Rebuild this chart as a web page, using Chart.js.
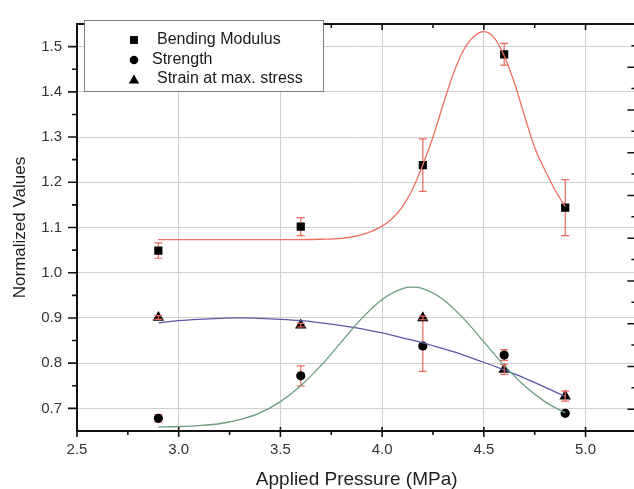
<!DOCTYPE html>
<html><head><meta charset="utf-8">
<script src="https://cdn.jsdelivr.net/npm/chart.js@4.4.1/dist/chart.umd.min.js"></script>
<style>html,body{margin:0;padding:0;overflow:hidden;background:#fff;}#wrap{width:634px;height:489px;position:relative;overflow:hidden;}</style>
</head><body><div id="wrap"><canvas id="c" width="643" height="489"></canvas></div>
<script>
// ---- data ----
const pressure = [2.9, 3.6, 4.2, 4.6, 4.9];
const bendingModulus = [1.049, 1.102, 1.238, 1.483, 1.144];
const bendingErr = [0.017, 0.020, 0.058, 0.024, 0.062];
const strength = [0.678, 0.772, 0.838, 0.818, 0.689];
const strengthErr = [0.008, 0.022, 0.056, 0.012, 0.004];
const strain = [0.901, 0.884, 0.900, 0.786, 0.727];
const strainErr = [0.004, 0.004, 0.004, 0.011, 0.011];

// fitted curves
const fitBendX = [2.9, 3.2, 3.5, 3.7, 3.8, 3.85, 3.9, 3.95, 4.0, 4.05, 4.1, 4.15, 4.2, 4.25, 4.3, 4.35, 4.4, 4.45, 4.5, 4.55, 4.6, 4.65, 4.7, 4.75, 4.8, 4.85, 4.9];
const fitBendY = [1.073, 1.073, 1.073, 1.074, 1.076, 1.079, 1.084, 1.092, 1.103, 1.120, 1.146, 1.185, 1.238, 1.300, 1.372, 1.440, 1.492, 1.522, 1.533, 1.520, 1.480, 1.420, 1.347, 1.277, 1.227, 1.183, 1.146];
const fitStrengthX = [2.9, 3.0, 3.1, 3.2, 3.3, 3.4, 3.5, 3.6, 3.7, 3.8, 3.9, 4.0, 4.1, 4.15, 4.2, 4.3, 4.4, 4.5, 4.6, 4.7, 4.8, 4.9];
const fitStrengthY = [0.659, 0.660, 0.662, 0.666, 0.675, 0.690, 0.715, 0.750, 0.795, 0.847, 0.899, 0.941, 0.965, 0.968, 0.965, 0.941, 0.899, 0.847, 0.795, 0.750, 0.715, 0.690];
const fitStrainX = [2.9, 3.0, 3.1, 3.2, 3.3, 3.4, 3.5, 3.6, 3.7, 3.8, 3.9, 4.0, 4.1, 4.2, 4.3, 4.4, 4.5, 4.6, 4.7, 4.8, 4.9];
const fitStrainY = [0.889, 0.894, 0.897, 0.899, 0.900, 0.899, 0.897, 0.894, 0.889, 0.883, 0.876, 0.867, 0.856, 0.845, 0.832, 0.818, 0.802, 0.785, 0.767, 0.747, 0.726];

// axis ticks
const xTicks = [2.5, 3.0, 3.5, 4.0, 4.5, 5.0];
const xMinorTicks = [2.75, 3.25, 3.75, 4.25, 4.75];
const yTicks = [0.7, 0.8, 0.9, 1.0, 1.1, 1.2, 1.3, 1.4, 1.5];
const yMinorTicks = [0.75, 0.85, 0.95, 1.05, 1.15, 1.25, 1.35, 1.45];
const rightTicks = [0, 1, 2, 3, 4, 5, 6, 7, 8];
const rightMinorTicks = [0.5, 1.5, 2.5, 3.5, 4.5, 5.5, 6.5, 7.5, 8.5];

const seriesNames = ['Bending Modulus', 'Strength', 'Strain at max. stress'];

const FONT = "'Liberation Sans', Arial, sans-serif";
Chart.defaults.font.family = FONT;

const pts = (xs, ys) => xs.map((x, i) => ({x: x, y: ys[i]}));

const ERR_COLOR = '#ee6a5c';
function drawErrors(chart, vals, errs) {
  const ctx = chart.ctx, xs = chart.scales.x, ys = chart.scales.y;
  ctx.save();
  ctx.strokeStyle = ERR_COLOR;
  ctx.lineWidth = 1.2;
  for (let i = 0; i < pressure.length; i++) {
    const px = xs.getPixelForValue(pressure[i]);
    const t = ys.getPixelForValue(vals[i] + errs[i]);
    const b = ys.getPixelForValue(vals[i] - errs[i]);
    ctx.beginPath();
    ctx.moveTo(px, t); ctx.lineTo(px, b);
    ctx.moveTo(px - 4, t); ctx.lineTo(px + 4, t);
    ctx.moveTo(px - 4, b); ctx.lineTo(px + 4, b);
    ctx.stroke();
  }
  ctx.restore();
}

const framePlugin = {
  id: 'frame',
  beforeDraw(chart) {
    const ctx = chart.ctx;
    ctx.save(); ctx.fillStyle = '#fff'; ctx.fillRect(0, 0, chart.width, chart.height); ctx.restore();
  },
  beforeDatasetsDraw(chart) {
    drawErrors(chart, bendingModulus, bendingErr);
    drawErrors(chart, strength, strengthErr);
  },
  afterDatasetsDraw(chart) {
    drawErrors(chart, strain, strainErr);
  },
  afterDraw(chart) {
    const ctx = chart.ctx, a = chart.chartArea;
    const xs = chart.scales.x, ys = chart.scales.y, y2 = chart.scales.y2;
    ctx.save();
    ctx.strokeStyle = '#111';
    ctx.lineWidth = 1.6;
    ctx.beginPath();
    xTicks.forEach(v => { const p = xs.getPixelForValue(v); ctx.moveTo(p, a.bottom - 4); ctx.lineTo(p, a.bottom + 6); });
    xMinorTicks.forEach(v => { const p = xs.getPixelForValue(v); ctx.moveTo(p, a.bottom); ctx.lineTo(p, a.bottom + 4); });
    xTicks.forEach(v => { const p = xs.getPixelForValue(v); ctx.moveTo(p, a.top); ctx.lineTo(p, a.top + 6); });
    xMinorTicks.forEach(v => { const p = xs.getPixelForValue(v); ctx.moveTo(p, a.top); ctx.lineTo(p, a.top + 4); });
    yTicks.forEach(v => { const p = ys.getPixelForValue(v); ctx.moveTo(a.left, p); ctx.lineTo(a.left - 9, p); });
    yMinorTicks.forEach(v => { const p = ys.getPixelForValue(v); ctx.moveTo(a.left, p); ctx.lineTo(a.left - 5, p); });
    rightTicks.forEach(v => { const p = y2.getPixelForValue(v); ctx.moveTo(a.right, p); ctx.lineTo(a.right - 9, p); });
    rightMinorTicks.forEach(v => { const p = y2.getPixelForValue(v); ctx.moveTo(a.right, p); ctx.lineTo(a.right - 5, p); });
    ctx.stroke();
    ctx.lineWidth = 2;
    ctx.strokeRect(a.left, a.top, a.right - a.left, a.bottom - a.top);
    ctx.restore();

    // legend
    ctx.save();
    ctx.fillStyle = '#fff';
    ctx.fillRect(84, 20, 239, 71);
    ctx.strokeStyle = '#7a7a7a';
    ctx.lineWidth = 1;
    ctx.strokeRect(84.5, 20.5, 239, 71);
    ctx.fillStyle = '#000';
    Chart.helpers.drawPoint(ctx, {pointStyle: 'rect', radius: 5.6, rotation: 0, borderWidth: 0}, 134, 40);
    Chart.helpers.drawPoint(ctx, {pointStyle: 'circle', radius: 4.3, rotation: 0, borderWidth: 0}, 134, 60);
    Chart.helpers.drawPoint(ctx, {pointStyle: 'triangle', radius: 6, rotation: 0, borderWidth: 0}, 134, 80.5);
    ctx.fillStyle = '#1a1a1a';
    ctx.font = '16px ' + FONT;
    ctx.textBaseline = 'middle';
    ctx.textAlign = 'left';
    ctx.fillText(seriesNames[0], 157, 39.5);
    ctx.fillText(seriesNames[1], 152, 59.5);
    ctx.fillText(seriesNames[2], 157, 79);
    ctx.restore();
  }
};

new Chart(document.getElementById('c'), {
  type: 'scatter',
  data: {
    datasets: [
      {label: 'Bending fit', data: pts(fitBendX, fitBendY), showLine: true, pointRadius: 0, borderColor: '#ef6e5f', borderWidth: 1.3, cubicInterpolationMode: 'monotone', fill: false},
      {label: 'Strength fit', data: pts(fitStrengthX, fitStrengthY), showLine: true, pointRadius: 0, borderColor: '#6b9c7c', borderWidth: 1.3, cubicInterpolationMode: 'monotone', fill: false},
      {label: 'Strain fit', data: pts(fitStrainX, fitStrainY), showLine: true, pointRadius: 0, borderColor: '#5858a8', borderWidth: 1.3, cubicInterpolationMode: 'monotone', fill: false},
      {label: seriesNames[0], data: pts(pressure, bendingModulus), pointStyle: 'rect', pointRadius: 5.8, pointBorderWidth: 0, pointBackgroundColor: '#000', showLine: false},
      {label: seriesNames[1], data: pts(pressure, strength), pointStyle: 'circle', pointRadius: 4.6, pointBorderWidth: 0, pointBackgroundColor: '#000', showLine: false},
      {label: seriesNames[2], data: pts(pressure, strain), pointStyle: 'triangle', pointRadius: 6.6, pointBorderWidth: 0, pointBackgroundColor: '#000', showLine: false}
    ]
  },
  options: {
    responsive: false,
    animation: false,
    devicePixelRatio: 1,
    layout: {padding: {top: 13, right: 0, left: 0, bottom: 0}},
    plugins: {legend: {display: false}, tooltip: {enabled: false}},
    scales: {
      x: {
        type: 'linear', min: 2.5, max: 5.25,
        afterBuildTicks: s => { s.ticks = xTicks.map(v => ({value: v})); },
        afterFit: s => { s.height = 58; },
        grid: {color: '#cfcfcf', lineWidth: 1, drawTicks: false},
        border: {display: false},
        ticks: {font: {size: 15}, color: '#333', padding: 10, maxRotation: 0, callback: v => Number(v).toFixed(1)},
        title: {display: true, text: 'Applied Pressure (MPa)', color: '#1e1e1e', font: {size: 19, lineHeight: 1}, padding: {top: 0, bottom: 0}}
      },
      y: {
        type: 'linear', min: 0.65, max: 1.55,
        afterBuildTicks: s => { s.ticks = yTicks.map(v => ({value: v})); },
        afterFit: s => { s.width = 77; },
        grid: {color: '#cfcfcf', lineWidth: 1, drawTicks: false},
        border: {display: false},
        ticks: {font: {size: 15}, color: '#333', padding: 15, callback: v => Number(v).toFixed(1)},
        title: {display: true, text: 'Normalized Values', color: '#1e1e1e', font: {size: 17, lineHeight: 1}, padding: {top: 12, bottom: 0}}
      },
      y2: {
        type: 'linear', position: 'right', display: false, min: -0.51, max: 9.01
      }
    }
  },
  plugins: [framePlugin]
});
</script>
</body></html>
